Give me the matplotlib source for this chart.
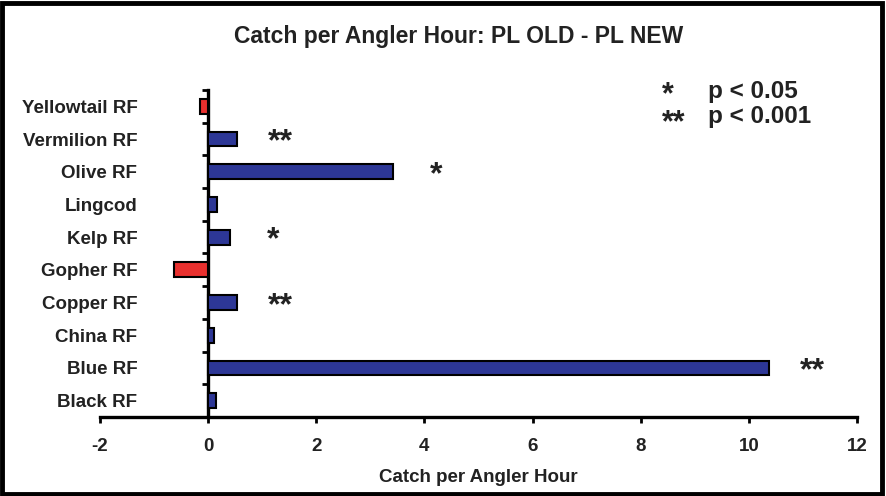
import numpy as np
import matplotlib.pyplot as plt
from matplotlib.patches import Rectangle

# DATOS (de arriba hacia abajo)
especies = ["Yellowtail RF", "Vermilion RF", "Olive RF", "Lingcod", "Kelp RF",
            "Gopher RF", "Copper RF", "China RF", "Blue RF", "Black RF"]
valores = [-0.15, 0.53, 3.42, 0.17, 0.41, -0.63, 0.53, 0.10, 10.37, 0.15]
signif = ["", "**", "*", "", "*", "", "**", "", "**", ""]

x_ticks = [-2, 0, 2, 4, 6, 8, 10, 12]

AZUL = "#2d3796"
ROJO = "#e8302e"

plt.rcParams['font.family'] = ['Liberation Sans', 'DejaVu Sans']
plt.rcParams['font.weight'] = 'bold'

fig = plt.figure(figsize=(8.86, 4.96), dpi=100)
ax = fig.add_axes([100/886, 1 - 417/496, (857 - 100)/886, (417 - 90)/496])

y = np.arange(len(especies))
colores = [ROJO if v < 0 else AZUL for v in valores]
ax.barh(y, valores, height=0.45, color=colores, edgecolor='black', linewidth=1.5, zorder=3)

# ASTERISCOS DE SIGNIFICANCIA
for yi, v, s in zip(y, valores, signif):
    if s:
        ax.text(v + 0.8, yi + 0.1, s, ha='center', va='center', fontsize=23,
                fontweight='bold', color='#222222')

ax.set_xlim(-2, 12)
ax.set_ylim(len(especies) - 0.5, -0.5)

ax.spines['top'].set_visible(False)
ax.spines['right'].set_visible(False)
ax.spines['left'].set_position(('data', 0))
ax.spines['left'].set_linewidth(2.4)
ax.spines['bottom'].set_linewidth(2.4)

ax.set_yticks(y)
ax.set_yticklabels(especies)
ax.set_yticks(np.arange(-0.5, len(especies), 1), minor=True)
ax.tick_params(axis='y', which='major', length=0, pad=51, labelsize=13.5, labelcolor='#222222')
ax.tick_params(axis='y', which='minor', length=4, width=2, direction='out')

ax.set_xticks(x_ticks)
ax.set_xticklabels([str(t) for t in x_ticks])
ax.tick_params(axis='x', length=4, width=2, direction='out', pad=11, labelsize=13.5,
               labelcolor='#222222')

ax.set_xlabel("Catch per Angler Hour", fontsize=13.5, fontweight='bold', labelpad=10,
              color='#222222')

# TITULO
fig.text(459/886, 1 - 37/496, "Catch per Angler Hour: PL OLD - PL NEW", ha='center',
         va='center', fontsize=16.5, fontweight='bold', color='#222222')

# LEYENDA DE SIGNIFICANCIA
fig.text(662/886, 1 - 109/496, "*\n**", ha='left', va='center', fontsize=22,
         fontweight='bold', color='#222222', linespacing=0.92)
fig.text(708/886, 1 - 104/496, "p < 0.05\np < 0.001", ha='left', va='center', fontsize=17.5,
         fontweight='bold', color='#222222', linespacing=1.12)

# MARCO
fig.patches.append(Rectangle((0.002, 0.004), 0.994, 0.99, transform=fig.transFigure,
                             fill=False, edgecolor='black', linewidth=3.5))

fig.savefig("out.png", dpi=100)
